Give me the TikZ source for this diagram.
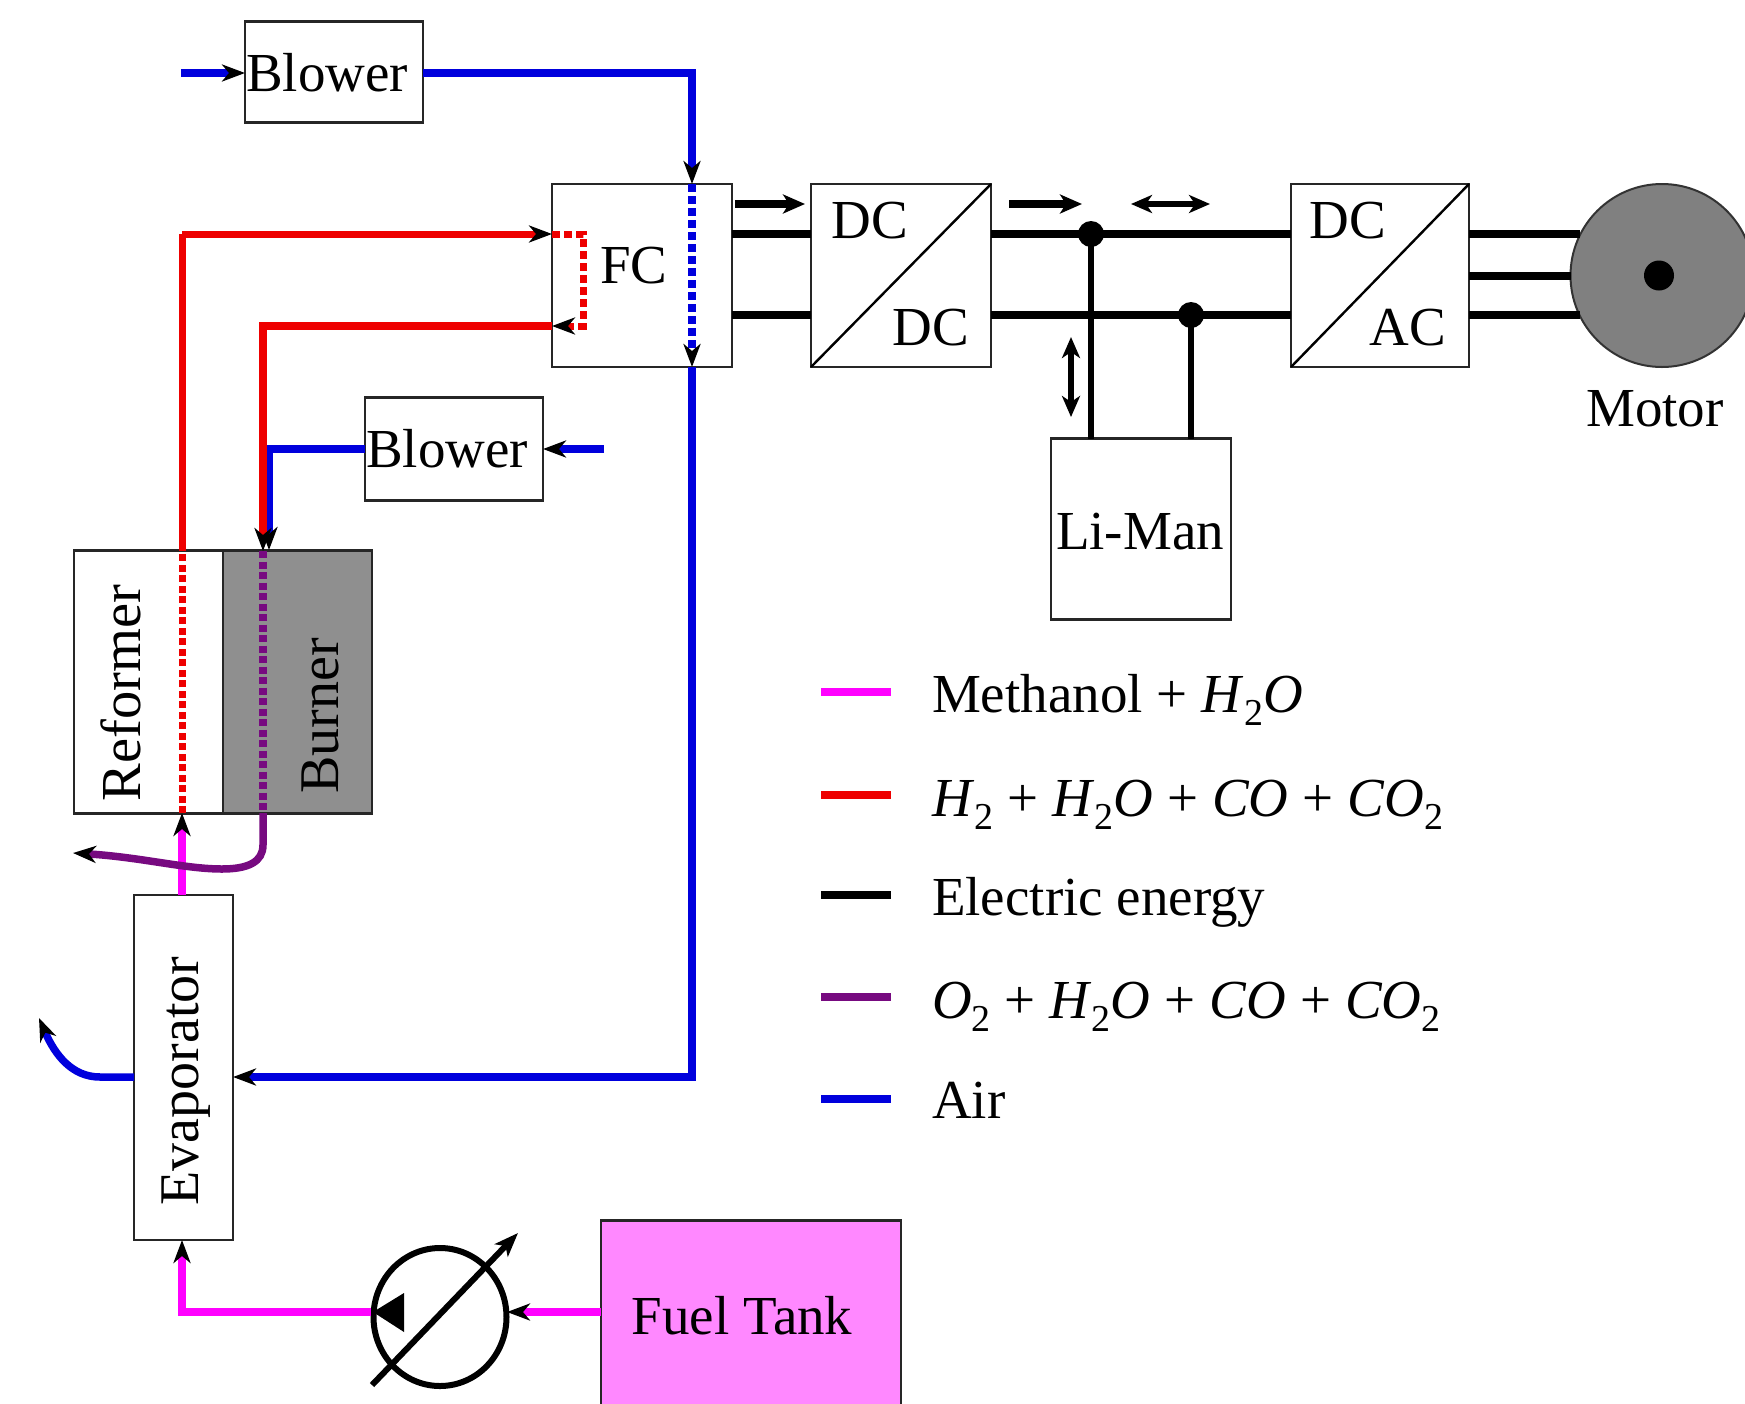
\documentclass[tikz,border=0pt]{standalone}
\usepackage{fontspec}
\setmainfont{Liberation Serif}
\usetikzlibrary{arrows.meta,shapes.geometric}
\definecolor{flowmag}{HTML}{FF00FF}
\definecolor{flowred}{HTML}{EE0000}
\definecolor{flowblue}{HTML}{0000DD}
\definecolor{flowpur}{HTML}{770A80}
\definecolor{tankfill}{HTML}{FF88FF}
\definecolor{burnfill}{HTML}{8F8F8F}
\definecolor{motorfill}{HTML}{808080}
\newcommand{\stwo}{\raisebox{-0.24em}{\upshape\fontsize{38}{38}\selectfont 2}}
\newcommand{\pls}{\kern.255em+\kern.255em}
\tikzset{
  box/.style={draw=black!85,line width=2.4pt,rectangle,inner sep=0pt,outer sep=0pt},
  txt/.style={anchor=base,inner sep=0pt,outer sep=0pt,font=\fontsize{55}{60}\selectfont},
  leg/.style={anchor=base west,inner sep=0pt,outer sep=0pt,font=\fontsize{55}{60}\selectfont},
  tipk/.style={-{Stealth[black,length=23pt,width=17pt,inset=7pt]}},
  smallarrow/.style={line width=7.5pt,black,-{Stealth[black,length=22pt,width=19pt,inset=6pt]}},
  dblarrow/.style={line width=6pt,black,{Stealth[black,length=21pt,width=18pt,inset=6pt]}-{Stealth[black,length=21pt,width=18pt,inset=6pt]}},
  air/.style={flowblue,line width=7.5pt},
  ref/.style={flowred,line width=7pt},
  fuel/.style={flowmag,line width=7.5pt},
  exh/.style={flowpur,line width=7.5pt},
  elec/.style={black,line width=8pt},
  inside/.style={dash pattern=on 8pt off 4pt},
  insidefine/.style={dash pattern=on 7pt off 3.5pt},
}
\begin{document}
\begin{tikzpicture}[x=1pt,y=-1pt]
\clip (0,0) rectangle (1745,1403);
% boxes
\node[box,minimum width=178pt,minimum height=101pt] (blowerA) at (334,72) {};
\node[box,minimum width=178pt,minimum height=103pt] (blowerB) at (454,449) {};
\node[box,minimum width=180pt,minimum height=183pt] (fc) at (642,275.5) {};
\node[box,minimum width=180pt,minimum height=183pt] (dcdc) at (901,275.5) {};
\node[box,minimum width=178pt,minimum height=183pt] (dcac) at (1380,275.5) {};
\node[box,minimum width=180pt,minimum height=181pt] (liman) at (1141,529) {};
\node[box,minimum width=298pt,minimum height=263pt] (reformer) at (223,682) {};
\node[box,fill=burnfill,minimum width=149pt,minimum height=263pt] (burner) at (297.5,682) {};
\node[box,minimum width=99pt,minimum height=345pt] (evap) at (183.5,1067.5) {};
\node[box,fill=tankfill,minimum width=300pt,minimum height=260pt] (tank) at (751,1350.5) {};
\node[circle,draw=black!80,line width=2pt,fill=motorfill,minimum size=183pt,inner sep=0pt,outer sep=0pt] (motor) at (1662,275.5) {};
\node[circle,fill=black,minimum size=30pt,inner sep=0pt] (shaft) at (1659,275.5) {};
\node[ellipse,draw=black,line width=6pt,minimum width=133pt,minimum height=138pt,inner sep=0pt,outer sep=0pt] (pump) at (440,1317) {};
% converter diagonals
\draw[black,line width=2.4pt] (dcdc.south west) -- (dcdc.north east);
\draw[black,line width=2.4pt] (dcac.south west) -- (dcac.north east);
% coordinates
\coordinate (airin) at (181,73);
\coordinate (aircorner) at (692,73);
\coordinate (airfctop) at (692,184);
\coordinate (airfcbot) at (692,367);
\coordinate (aircorner2) at (692,1077);
\coordinate (evapE) at (233,1077);
\coordinate (evapW) at (134,1077);
\coordinate (exhA) at (39,1018);
\coordinate (airB) at (604,449);
\coordinate (blowerBe) at (543,449);
\coordinate (blowerBw) at (365,449);
\coordinate (airBc) at (269,449);
\coordinate (burntopB) at (269,550);
\coordinate (redtop) at (182,234);
\coordinate (refT) at (182,551);
\coordinate (refB) at (182,813);
\coordinate (evapT) at (182,895);
\coordinate (fcW1) at (552,234);
\coordinate (fcd1) at (583,234);
\coordinate (fcd2) at (583,326);
\coordinate (fcW2) at (552,326);
\coordinate (redlow) at (263,326);
\coordinate (burT) at (263,551);
\coordinate (burB) at (263,813);
\coordinate (exhB) at (73,853);
\coordinate (evapB) at (182,1240);
\coordinate (fuelc) at (182,1312);
\coordinate (pumpW) at (371,1312);
\coordinate (pumpE) at (507,1312);
\coordinate (tankW) at (601,1312);
\coordinate (pumpS) at (372,1385);
\coordinate (pumpN) at (518,1233);
\coordinate (j1) at (1091,234);
\coordinate (j2) at (1191,315);
% air
\draw[air,tipk] (airin) -- (blowerA.west |- airin);
\draw[air,tipk] (blowerA.east |- airin) -- (aircorner) -- (airfctop);
\draw[air,inside,tipk] (airfctop) -- (airfcbot);
\draw[air,tipk] (airfcbot) -- (aircorner2) -- (evapE);
\draw[air,tipk] (airB) -- (blowerBe);
\draw[air,tipk] (evapW) -- (100,1077) .. controls (72,1077) and (55,1055) .. (exhA);
\draw[air,tipk] (blowerBw) -- (airBc) -- (burntopB);
% reformate
\draw[ref,insidefine] (refB) -- (refT);
\draw[ref] (refT) -- (redtop);
\draw[ref,tipk] (redtop) -- (fcW1);
\draw[ref,inside,tipk] (fcW1) -- (fcd1) -- (fcd2) -- (fcW2);
\draw[ref,line width=7.5pt,tipk] (fcW2) -- (redlow) -- (burT);
% exhaust
\draw[exh,insidefine] (burT) -- (burB);
% fuel
\draw[fuel,tipk] (evapT) -- (refB);
\draw[fuel,tipk] (tankW) -- (pumpE);
\draw[fuel,tipk] (pumpW) -- (fuelc) -- (evapB);
\draw[exh,tipk] (burB) -- (263,845) .. controls (263,862) and (248,869) .. (222,869) .. controls (185,869) and (140,857) .. (exhB);
% pump details
\fill[black] (373,1312) -- (404,1293) -- (404,1332) -- cycle;
\draw[line width=6pt,black,-{Stealth[black,length=24pt,width=18pt,inset=6pt]}] (pumpS) -- (pumpN);
% electric
\draw[elec] (fc.east |- j1) -- (dcdc.west |- j1);
\draw[elec] (fc.east |- j2) -- (dcdc.west |- j2);
\draw[elec] (dcdc.east |- j1) -- (dcac.west |- j1);
\draw[elec] (dcdc.east |- j2) -- (dcac.west |- j2);
\draw[elec] (dcac.east |- j1) -- (1580,234);
\draw[elec] (dcac.east) -- (motor.west);
\draw[elec] (dcac.east |- j2) -- (1580,315);
\draw[black,line width=6.5pt] (j1) -- (liman.north -| j1);
\draw[black,line width=6.5pt] (j2) -- (liman.north -| j2);
\fill[black] (j1) circle (13pt);
\fill[black] (j2) circle (13pt);
% flow arrows
\coordinate (fa1) at (735,204); \coordinate (fa2) at (805,204);
\coordinate (fb1) at (1009,204); \coordinate (fb2) at (1082,204);
\coordinate (fc1) at (1131,204); \coordinate (fc2) at (1210,204);
\coordinate (fd1) at (1071,337); \coordinate (fd2) at (1071,417);
\draw[smallarrow] (fa1) -- (fa2);
\draw[smallarrow] (fb1) -- (fb2);
\draw[dblarrow] (fc1) -- (fc2);
\draw[dblarrow] (fd1) -- (fd2);
% labels
\node[txt] (tblowerA) at (327,91) {Blower};
\node[txt] (tblowerB) at (447,467) {Blower};
\node[txt] (tfc) at (634,283) {FC};
\node[txt] (tdc1) at (870,238) {DC};
\node[txt] (tdc2) at (931,345) {DC};
\node[txt] (tdc3) at (1348,238) {DC};
\node[txt] (tac) at (1408,345) {AC};
\node[txt] (tmotor) at (1655,426) {Motor};
\node[txt] (tliman) at (1140,549) {Li-Man};
\node[txt,rotate=90,font=\fontsize{56.5}{60}\selectfont] (trefo) at (140,693) {Reformer};
\node[txt,rotate=90,font=\fontsize{56}{60}\selectfont] (tburn) at (338,716) {Burner};
\node[txt,rotate=90,font=\fontsize{56}{60}\selectfont] (tevap) at (198,1081) {Evaporator};
\node[txt] (ttank) at (742,1334) {Fuel Tank};
% legend
\foreach \n/\y/\c in {a/692/flowmag,b/795/flowred,c/895/black,d/997/flowpur,e/1099/flowblue}{
  \coordinate (k\n1) at (821,\y); \coordinate (k\n2) at (891,\y);
  \draw[\c,line width=8pt] (k\n1) -- (k\n2);
}
\node[leg] (la) at (932,712) {Methanol\pls\textit{H}\stwo\textit{O}};
\node[leg] (lb) at (932,816) {\textit{H}\stwo\pls\textit{H}\stwo\textit{O}\pls\textit{CO}\pls\textit{CO}\stwo};
\node[leg] (lc) at (932,915) {Electric energy};
\node[leg] (ld) at (932,1018) {\textit{O}\stwo\pls\textit{H}\stwo\textit{O}\pls\textit{CO}\pls\textit{CO}\stwo};
\node[leg] (le) at (932,1118) {Air};
\end{tikzpicture}
\end{document}
